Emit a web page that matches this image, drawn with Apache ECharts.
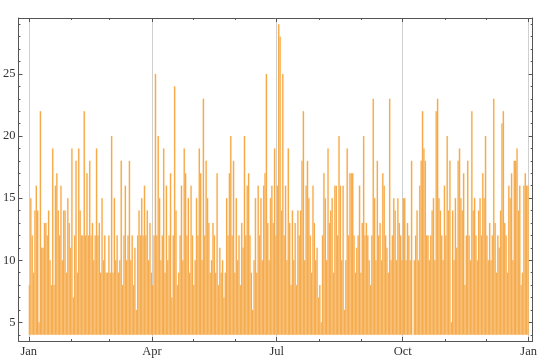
<!DOCTYPE html>
<html>
<head>
<meta charset="utf-8">
<script src="https://cdn.jsdelivr.net/npm/echarts@6/dist/echarts.min.js"></script>
<style>html,body{margin:0;padding:0;background:#fff}#c{width:540px;height:360px}</style>
</head>
<body>
<div id="c"></div>
<script>
// daily values, Jan 1 .. Dec 31 (index = day of year, 0-based); null = missing day
const dailyValues = [
  8,15,12,9,14,16,14,5,22,11,
  11,13,13,12,14,10,8,19,8,16,
  17,14,12,16,10,14,14,9,15,13,
  11,19,7,12,18,9,19,14,12,12,
  22,12,17,12,18,12,13,10,12,19,
  12,13,9,15,10,12,9,9,12,9,
  20,9,15,10,12,9,10,18,8,12,
  16,10,12,18,10,12,8,11,6,12,
  14,12,15,12,16,12,14,10,13,9,
  8,12,25,12,20,15,10,12,19,9,
  16,10,12,17,7,12,24,14,8,9,
  12,16,10,19,17,12,15,9,16,12,
  8,10,15,12,19,17,10,23,12,18,
  15,13,9,10,13,12,9,17,8,11,
  9,10,7,9,15,12,17,20,12,18,
  9,15,10,12,8,13,11,20,12,16,
  17,12,9,6,10,15,9,16,12,15,
  10,16,17,25,13,10,15,16,13,19,
  12,16,29,28,14,25,12,16,10,19,
  13,8,14,10,13,8,14,12,14,18,
  22,10,16,18,15,12,9,16,13,10,
  11,7,8,5,12,17,15,10,19,13,
  14,15,9,16,16,12,20,16,10,16,
  6,10,19,12,17,17,17,12,9,11,
  12,16,9,13,20,12,13,12,10,8,
  12,23,15,10,18,12,13,10,17,16,
  12,11,9,23,10,12,15,14,10,15,
  13,12,10,15,15,10,13,12,10,18,
  null,10,12,14,10,16,18,22,19,18,
  12,12,10,12,14,15,10,22,23,15,
  14,12,10,16,12,20,14,18,5,14,
  10,15,11,18,19,15,14,17,8,12,
  18,12,10,22,14,15,12,10,14,15,
  12,17,15,20,12,10,13,10,12,23,
  13,9,12,11,14,21,22,13,12,9,
  16,15,17,10,18,18,19,14,16,8,
  9,16,17,16,16
];
const barBase = 4;                       // bars rise from this value
const majorTickDays = [0, 90, 181, 273, 365];
const majorTickLabels = ['Jan', 'Apr', 'Jul', 'Oct', 'Jan'];
const minorTickDays = [31, 59, 120, 151, 212, 243, 304, 334];
const yMajorTicks = [5, 10, 15, 20, 25];
const yMinorTicks = [4,6,7,8,9,11,12,13,14,16,17,18,19,21,22,23,24,26,27,28,29];

const X_MIN = -7.5, X_MAX = 367.9, Y_MIN = 3.5, Y_MAX = 29.5;
const frameColor = '#555';
const font = {fontFamily: 'Liberation Serif', fontSize: 12.5, color: '#333'};

const barData = [];
dailyValues.forEach((v, i) => { if (v != null) barData.push([i, v]); });

function xAx(pos, custom, len, showLine, labels, split) {
  return {
    type: 'value', position: pos, min: X_MIN, max: X_MAX,
    axisLine: {show: showLine, onZero: false, lineStyle: {color: frameColor, width: 1}},
    axisTick: {show: true, inside: true, length: len, customValues: custom, lineStyle: {color: frameColor}},
    axisLabel: labels ? Object.assign({show: true, margin: 4, customValues: custom,
      formatter: v => majorTickLabels[majorTickDays.indexOf(v)] || ''}, font) : {show: false},
    splitLine: {show: !!split, lineStyle: {color: '#cfcfcf', width: 1}}
  };
}
function yAx(pos, custom, len, showLine, labels) {
  return {
    type: 'value', position: pos, min: Y_MIN, max: Y_MAX,
    axisLine: {show: showLine, onZero: false, lineStyle: {color: frameColor, width: 1}},
    axisTick: {show: true, inside: true, length: len, customValues: custom, lineStyle: {color: frameColor}},
    axisLabel: labels ? Object.assign({show: true, margin: 3, customValues: custom}, font) : {show: false},
    splitLine: {show: false}
  };
}

const chart = echarts.init(document.getElementById('c'), null, {renderer: 'canvas'});
chart.setOption({
  animation: false,
  backgroundColor: '#fff',
  grid: {left: 16, right: 7, top: 18, bottom: 19, containLabel: false},
  xAxis: [
    xAx('bottom', majorTickDays, 4, true, true, true),
    xAx('bottom', minorTickDays, 2, false, false, false),
    xAx('top', majorTickDays, 4, true, false, false),
    xAx('top', minorTickDays, 2, false, false, false)
  ],
  yAxis: [
    yAx('left', yMajorTicks, 4, true, true),
    yAx('left', yMinorTicks, 2, false, false),
    yAx('right', yMajorTicks, 4, true, false),
    yAx('right', yMinorTicks, 2, false, false)
  ],
  series: [{
    type: 'custom', xAxisIndex: 0, yAxisIndex: 0, clip: true,
    data: barData,
    encode: {x: 0, y: 1},
    renderItem: function (params, api) {
      const d = api.value(0), v = api.value(1);
      const p0 = api.coord([d, barBase]);
      const p1 = api.coord([d + 1, v]);
      return {
        type: 'rect',
        shape: {x: p0[0], y: p1[1], width: p1[0] - p0[0], height: p0[1] - p1[1]},
        style: {fill: '#F6A43E', stroke: 'rgba(250,215,160,0.9)', lineWidth: 0.25}
      };
    }
  }]
});
</script>
</body>
</html>
